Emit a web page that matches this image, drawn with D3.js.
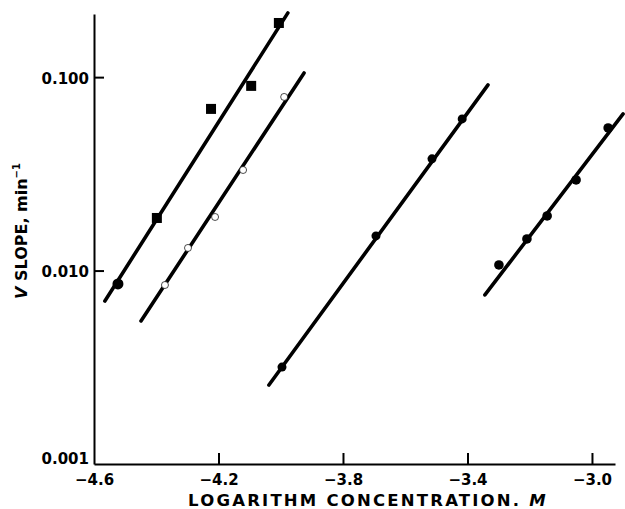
<!DOCTYPE html>
<html>
<head>
<meta charset="utf-8">
<script src="https://cdn.jsdelivr.net/npm/d3@7"></script>
<style>
  body { margin: 0; background: white; }
  svg { display: block; }
</style>
</head>
<body>
<svg id="chart" width="625" height="509"></svg>
<script>
const WIDTH = 625;
const HEIGHT = 509;

// data (log concentration, V slope in min^-1)
const squaresX = [-4.523, -4.398, -4.224, -4.095, -4.006];
const squaresY = [0.00853, 0.0187, 0.0685, 0.0901, 0.1905];
const squaresShape = ['circle', 'square', 'square', 'square', 'square'];
const squaresFitX = [-4.565, -3.977];
const squaresFitY = [0.00696, 0.2148];

const openX = [-4.372, -4.298, -4.211, -4.121, -3.989];
const openY = [0.00842, 0.01309, 0.01892, 0.0331, 0.0790];
const openFitX = [-4.449, -3.925];
const openFitY = [0.00549, 0.1051];

const midX = [-3.996, -3.694, -3.514, -3.417];
const midY = [0.00317, 0.0151, 0.0378, 0.0608];
const midFitX = [-4.038, -3.334];
const midFitY = [0.00256, 0.0912];

const rightX = [-3.299, -3.209, -3.144, -3.051, -2.948];
const rightY = [0.01069, 0.01457, 0.01915, 0.0294, 0.0546];
const rightFitX = [-3.344, -2.900];
const rightFitY = [0.00748, 0.0645];

const xTicks = [-4.6, -4.2, -3.8, -3.4, -3.0];
const yTicks = [0.001, 0.01, 0.1];
const yTickLabels = ['0.001', '0.010', '0.100'];

const FONT = 'DejaVu Sans, Arial, sans-serif';

const svg = d3.select('#chart');

const x = d3.scaleLinear().domain([-4.6, -2.926]).range([94, 615]);
const y = d3.scaleLog().domain([0.001, 0.212]).range([464, 14]);

function drawAxes() {
  const xAxis = d3.axisBottom(x)
    .tickValues(xTicks)
    .tickSizeInner(-11)
    .tickSizeOuter(0)
    .tickPadding(10)
    .tickFormat(d => d3.format('.1f')(d).replace('-', '\u2212'));

  const gx = svg.append('g')
    .attr('transform', 'translate(0,464)')
    .call(xAxis);
  gx.select('.domain').attr('stroke-width', 2);
  gx.selectAll('.tick line').attr('stroke-width', 2)
    .attr('opacity', d => d === -4.6 ? 0 : 1);
  gx.selectAll('.tick text')
    .attr('font-family', FONT)
    .attr('font-weight', 'bold')
    .attr('font-size', '15px')
    .attr('fill', 'black');

  const yAxis = d3.axisLeft(y)
    .tickValues(yTicks)
    .tickSizeInner(-10)
    .tickSizeOuter(0)
    .tickPadding(5)
    .tickFormat((d, i) => yTickLabels[i]);

  const gy = svg.append('g')
    .attr('transform', 'translate(94,0)')
    .call(yAxis);
  gy.select('.domain').attr('stroke-width', 2);
  gy.selectAll('.tick line').attr('stroke-width', 2)
    .attr('opacity', d => d === 0.001 ? 0 : 1);
  gy.selectAll('.tick text')
    .attr('font-family', FONT)
    .attr('font-weight', 'bold')
    .attr('font-size', '15px')
    .attr('fill', 'black')
    .attr('dy', d => d === 0.001 ? '-0.05em' : '0.4em');

  // axis titles
  const xt = svg.append('text')
    .attr('x', 368)
    .attr('y', 506)
    .attr('text-anchor', 'middle')
    .attr('font-family', FONT)
    .attr('font-weight', 'bold')
    .attr('font-size', '16.5px')
    .attr('letter-spacing', '2.2px');
  xt.append('tspan').text('LOGARITHM CONCENTRATION. ');
  xt.append('tspan').attr('font-style', 'italic').text('M');

  const yt = svg.append('text')
    .attr('transform', 'translate(27,231) rotate(-90)')
    .attr('text-anchor', 'middle')
    .attr('font-family', FONT)
    .attr('font-weight', 'bold')
    .attr('font-size', '16px');
  yt.append('tspan').attr('font-style', 'italic').text('V');
  yt.append('tspan').text(' SLOPE, min');
  yt.append('tspan').attr('font-size', '10px').attr('dy', '-7').text('\u2212' + '1');
}

function drawFit(xs, ys) {
  const line = d3.line()
    .x(d => x(d[0]))
    .y(d => y(d[1]));
  svg.append('path')
    .datum(d3.zip(xs, ys))
    .attr('d', line)
    .attr('fill', 'none')
    .attr('stroke', 'black')
    .attr('stroke-width', 3.6)
    .attr('stroke-linecap', 'round');
}

function drawDots(xs, ys, r, fill) {
  svg.append('g')
    .selectAll('circle')
    .data(d3.zip(xs, ys))
    .enter()
    .append('circle')
    .attr('cx', d => x(d[0]))
    .attr('cy', d => y(d[1]))
    .attr('r', r)
    .attr('fill', fill)
    .attr('stroke', 'black')
    .attr('stroke-width', fill === 'white' ? 0.7 : 0);
}

function drawSquares() {
  const pts = d3.zip(squaresX, squaresY, squaresShape);
  const g = svg.append('g');
  g.selectAll('rect')
    .data(pts.filter(p => p[2] === 'square'))
    .enter()
    .append('rect')
    .attr('x', d => x(d[0]) - 5)
    .attr('y', d => y(d[1]) - 5)
    .attr('width', 10)
    .attr('height', 10)
    .attr('fill', 'black');
  g.selectAll('circle')
    .data(pts.filter(p => p[2] === 'circle'))
    .enter()
    .append('circle')
    .attr('cx', d => x(d[0]))
    .attr('cy', d => y(d[1]))
    .attr('r', 5.5)
    .attr('fill', 'black');
}

drawAxes();
drawFit(squaresFitX, squaresFitY);
drawFit(openFitX, openFitY);
drawFit(midFitX, midFitY);
drawFit(rightFitX, rightFitY);
drawSquares();
drawDots(openX, openY, 3.5, 'white');
drawDots(midX, midY, 4.5, 'black');
drawDots(rightX, rightY, 4.8, 'black');
</script>
</body>
</html>
